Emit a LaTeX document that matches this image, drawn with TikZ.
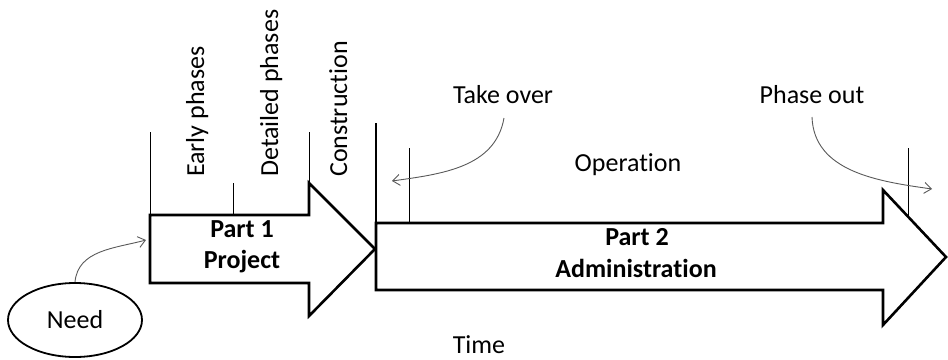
\documentclass[tikz,border=0pt]{standalone}
\usepackage{fontspec}
\setmainfont{Carlito}[Ligatures=NoCommon]
\usetikzlibrary{arrows.meta,shapes.geometric}
\begin{document}
\begin{tikzpicture}[x=1pt,y=-1pt,
  bigarrow/.style={line width=2.6pt,line join=miter,fill=white,draw=black},
  tickline/.style={line width=0.9pt},
  curvearrow/.style={line width=0.9pt,draw=black!65,-{Straight Barb[length=7pt,width=11pt,line width=0.9pt]}},
  lbl/.style={font=\fontsize{26}{30}\selectfont,inner sep=0pt,anchor=base},
  blbl/.style={font=\fontsize{26}{30}\selectfont\bfseries,inner sep=0pt,anchor=base},
  vlbl/.style={font=\fontsize{26}{30}\selectfont,inner sep=0pt,rotate=90,anchor=base west}]
\useasboundingbox (0,0) rectangle (948,359);
% Part 2 arrow
\draw[bigarrow] (376,223) coordinate (p2a) -- (883,223) -- (883,190) coordinate (h2t) -- (946,257) coordinate (p2tip) -- (883,325) -- (883,290) -- (376,290) coordinate (p2b) -- cycle;
\coordinate (p2top) at (376,123);
\draw[line width=2.6pt] (p2top) -- (p2b);
% Part 1 arrow
\draw[bigarrow] (150,215) coordinate (p1a) -- (309,215) coordinate (h1b) -- (309,183) coordinate (h1t) -- (375,249) coordinate (p1tip) -- (309,316) -- (309,283) -- (150,283) coordinate (p1b) -- cycle;
% phase ticks
\coordinate (t1) at (150,132);
\coordinate (t2a) at (233,183);
\coordinate (t2b) at (233,215);
\coordinate (t3) at (309,132);
\coordinate (t4a) at (409,148);
\coordinate (t4b) at (409,223);
\coordinate (t5a) at (908,148);
\coordinate (t5b) at (908,216);
\draw[tickline] (t1) -- (p1a);
\draw[tickline] (t2a) -- (t2b);
\draw[tickline] (t3) -- (h1t);
\draw[tickline] (t4a) -- (t4b);
\draw[tickline] (t5a) -- (t5b);
% labels
\node[vlbl] (early) at (204,177) {Early phases};
\node[vlbl] (detailed) at (278,177) {Detailed phases};
\node[vlbl] (constr) at (347,177) {Construction};
\node[blbl] (part1) at (242,237) {Part 1};
\node[blbl] (project) at (242,268) {Project};
\node[blbl] (part2) at (637,245) {Part 2};
\node[blbl] (admin) at (636,277) {Administration};
\node[lbl] (oper) at (628,171) {Operation};
\node[lbl] (takeover) at (503,103) {Take over};
\node[lbl] (phaseout) at (812,103) {Phase out};
\node[lbl] (time) at (479,353) {Time};
% need
\node[draw,ellipse,line width=1.8pt,minimum width=134pt,minimum height=74pt,inner sep=0pt] (need) at (75,320) {};
\node[lbl] (needtxt) at (75,328) {Need};
% curved arrows
\coordinate (p1in) at (146,240);
\coordinate (tostart) at (504,118);
\coordinate (toend) at (392,181);
\coordinate (postart) at (812,117);
\coordinate (poend) at (932,189);
\draw[curvearrow] (need.north) to[out=85,in=195] (p1in);
\draw[curvearrow] (tostart) to[out=-100,in=8] (toend);
\draw[curvearrow] (postart) to[out=-88,in=172] (poend);
\end{tikzpicture}
\end{document}
